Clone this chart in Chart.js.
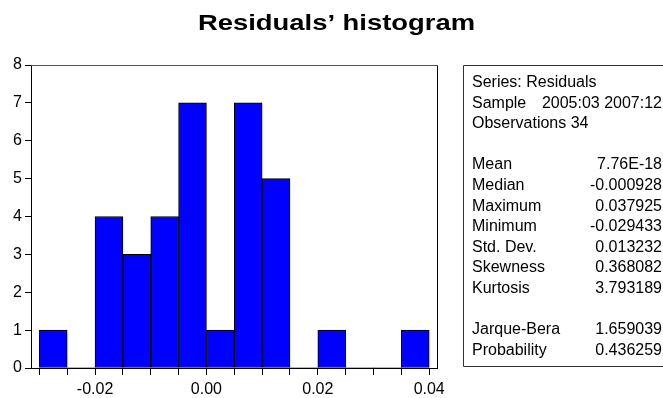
<!DOCTYPE html>
<html>
<head>
<meta charset="utf-8">
<script src="https://cdn.jsdelivr.net/npm/chart.js@4.4.1/dist/chart.umd.min.js"></script>
<style>
  html, body { margin: 0; padding: 0; background: #fff; }
  canvas { display: block; }
</style>
</head>
<body>
<canvas id="histChart" width="663" height="398"></canvas>
<script>
// histogram bins (width 0.005) and how many residuals fall in each
const binCenters = [-0.0275, -0.0225, -0.0175, -0.0125, -0.0075, -0.0025, 0.0025,
                    0.0075, 0.0125, 0.0175, 0.0225, 0.0275, 0.0325, 0.0375];
const counts = [1, 0, 4, 3, 4, 7, 1, 7, 5, 0, 1, 0, 0, 1];
const xTickLabels = [-0.02, 0.00, 0.02, 0.04];

const chartTitle = 'Residuals\u2019 histogram';
const headerNames = ['Series: Residuals', 'Sample', 'Observations 34'];
const headerValues = ['', '2005:03 2007:12', ''];
const statNames = ['Mean', 'Median', 'Maximum', 'Minimum', 'Std. Dev.', 'Skewness', 'Kurtosis'];
const statValues = ['7.76E-18', '-0.000928', '0.037925', '-0.029433', '0.013232', '0.368082', '3.793189'];
const testNames = ['Jarque-Bera', 'Probability'];
const testValues = ['1.659039', '0.436259'];

const FONT = '"Liberation Sans", Arial, sans-serif';

// frame, title and the statistics box
const extras = {
  id: 'extras',
  afterDraw(chart) {
    const c = chart.ctx;
    const a = chart.chartArea;
    c.save();

    // top + right side of the plot frame
    c.lineWidth = 1;
    c.strokeStyle = '#555';
    c.beginPath();
    c.moveTo(Math.round(a.left) + 0.5, Math.round(a.top) + 0.5);
    c.lineTo(Math.round(a.right) + 0.5, Math.round(a.top) + 0.5);
    c.stroke();
    c.strokeStyle = '#000';
    c.beginPath();
    c.moveTo(Math.round(a.right) + 0.5, Math.round(a.top) + 0.5);
    c.lineTo(Math.round(a.right) + 0.5, Math.round(a.bottom) + 0.5);
    c.stroke();

    // title (the original is drawn a bit wider than plain Arial bold)
    c.fillStyle = '#000';
    c.font = 'bold 22px ' + FONT;
    c.textBaseline = 'alphabetic';
    c.textAlign = 'center';
    const tw = c.measureText(chartTitle).width;
    c.save();
    c.translate(336.5, 30);
    c.scale(277 / tw, 1);
    c.fillText(chartTitle, 0, 0);
    c.restore();

    // stats box
    c.strokeStyle = '#333';
    c.beginPath();
    c.moveTo(680, 65.5);
    c.lineTo(463.5, 65.5);
    c.lineTo(463.5, 366.5);
    c.lineTo(680, 366.5);
    c.stroke();

    c.font = '16px ' + FONT;
    const lx = 472, rx = 662, step = 20.6;
    let y = 87;
    const rows = [];
    headerNames.forEach((n, i) => rows.push([n, headerValues[i]]));
    rows.push(null);
    statNames.forEach((n, i) => rows.push([n, statValues[i]]));
    rows.push(null);
    testNames.forEach((n, i) => rows.push([n, testValues[i]]));
    rows.forEach(r => {
      if (r) {
        c.textAlign = 'left';
        c.fillText(r[0], lx, y);
        if (r[1]) {
          c.textAlign = 'right';
          c.fillText(r[1], rx, y);
        }
      }
      y += step;
    });
    c.restore();
  }
};

const ctx = document.getElementById('histChart').getContext('2d');

const histChart = new Chart(ctx, {
  type: 'bar',
  data: {
    datasets: [{
      data: binCenters.map((x, i) => ({ x: x, y: counts[i] })),
      backgroundColor: '#0000ff',
      borderColor: '#000',
      borderWidth: c => (c.raw && c.raw.y === 0 ? 0 : 1),
      borderSkipped: false,
      barPercentage: 1,
      categoryPercentage: 1
    }]
  },
  options: {
    responsive: false,
    animation: false,
    devicePixelRatio: 1,
    layout: { padding: { top: 65, right: 226, left: 0, bottom: 0 } },
    plugins: {
      legend: { display: false },
      title: { display: false },
      tooltip: { enabled: false }
    },
    scales: {
      x: {
        type: 'linear',
        offset: false,
        min: -0.0315,
        max: 0.0414,
        afterFit: s => { s.height = 30; },
        grid: { offset: false, drawOnChartArea: false, drawTicks: true, tickLength: 7, color: '#000' },
        border: { display: true, color: '#000', width: 1 },
        ticks: {
          stepSize: 0.005,
          includeBounds: false,
          autoSkip: false,
          maxRotation: 0,
          padding: 5,
          color: '#000',
          font: { family: FONT, size: 16 },
          callback: v => {
            const hit = xTickLabels.find(t => Math.abs(t - v) < 1e-9);
            return hit === undefined ? '' : hit.toFixed(2);
          }
        }
      },
      y: {
        min: 0,
        max: 8,
        afterFit: s => { s.width = 31; },
        grid: { drawOnChartArea: false, drawTicks: true, tickLength: 6, color: '#000' },
        border: { display: true, color: '#000', width: 1 },
        ticks: {
          stepSize: 1,
          padding: 3,
          color: '#000',
          font: { family: FONT, size: 16 }
        }
      }
    }
  },
  plugins: [extras]
});
</script>
</body>
</html>
